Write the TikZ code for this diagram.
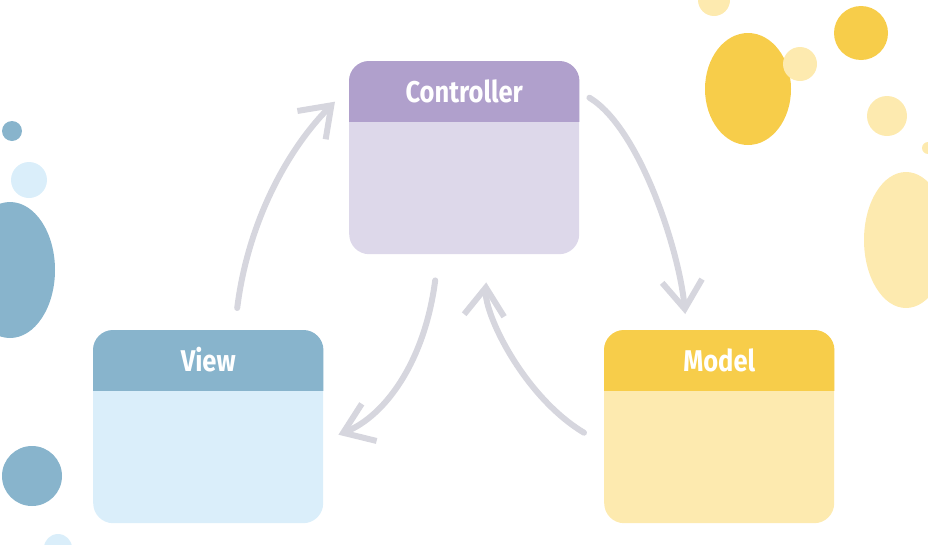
\documentclass[tikz,border=0pt]{standalone}
\usepackage{fontspec}
\setmainfont{Fira Sans}
\usetikzlibrary{arrows.meta,calc}
\definecolor{cH}{HTML}{B0A0CC}\definecolor{cB}{HTML}{DDD8EA}
\definecolor{vH}{HTML}{88B4CC}\definecolor{vB}{HTML}{DAEEFA}
\definecolor{mH}{HTML}{F7CD4A}\definecolor{mB}{HTML}{FDEAAF}
\definecolor{ar}{HTML}{D6D6DE}
\tikzset{
 boxbody/.style={rectangle,rounded corners=20pt,minimum width=230pt,minimum height=193pt,inner sep=0pt},
 hdrtext/.style={text=white,font=\fontsize{30}{34}\selectfont\bfseries,xscale=0.85},
 flow/.style={draw=ar,line width=6pt,line cap=round,-{Straight Barb[length=28pt,width=40pt,line width=6pt]}}
}
\newcommand{\mvcbox}[5]{%
 \node[boxbody,fill=#5,anchor=north west] (#1) at (#2,#3) {};
 \begin{scope}
 \clip (#1.north west) rectangle ($(#1.north east)+(0,-60pt)$);
 \fill[#4,rounded corners=20pt] (#1.north west) rectangle (#1.south east);
 \end{scope}}
\begin{document}
\begin{tikzpicture}[x=1pt,y=-1pt]
\useasboundingbox (0,0) rectangle (928,544);
\fill[vH] (12,131) circle (10);
\fill[vB] (29,180) circle (18);
\fill[vH] (10,270) ellipse (45 and 68);
\fill[vH] (32,476) circle (30);
\fill[vB] (58,548) circle (14);
\fill[mH] (748,89) ellipse (43 and 56);
\fill[mB] (800,64) circle (17);
\fill[mH] (861,33) circle (27);
\fill[mB] (887,116) circle (20);
\fill[mB] (906,240) ellipse (42 and 68);
\fill[mB] (714,0) circle (16);
\fill[mB] (928,148) circle (6);
\mvcbox{ctrl}{349}{61}{cH}{cB}
\mvcbox{view}{93}{330}{vH}{vB}
\mvcbox{model}{604}{330}{mH}{mB}
\node[hdrtext] (ctrlt) at ($(ctrl.north)+(0,30)$) {Controller};
\node[hdrtext] (viewt) at ($(view.north)+(0,30)$) {View};
\node[hdrtext] (modelt) at ($(model.north)+(0,30)$) {Model};
\draw[flow] ($(view.north)+(29,-22)$) .. controls ($(view.north)+(40,-110)$) and ($(ctrl.west)+(-60,-10)$) .. ($(ctrl.west)+(-14,-56)$);
\draw[flow] ($(ctrl.east)+(10,-60)$) .. controls ($(ctrl.east)+(60,-30)$) and ($(model.north)+(-40,-80)$) .. ($(model.north)+(-34,-16)$);
\draw[flow] ($(ctrl.south)+(-29,26)$) .. controls ($(ctrl.south)+(-40,110)$) and ($(view.east)+(60,-10)$) .. ($(view.east)+(15,8)$);
\draw[flow] ($(model.west)+(-20,6)$) .. controls ($(model.west)+(-80,-30)$) and ($(ctrl.south)+(20,60)$) .. ($(ctrl.south)+(22,28)$);
\end{tikzpicture}
\end{document}
